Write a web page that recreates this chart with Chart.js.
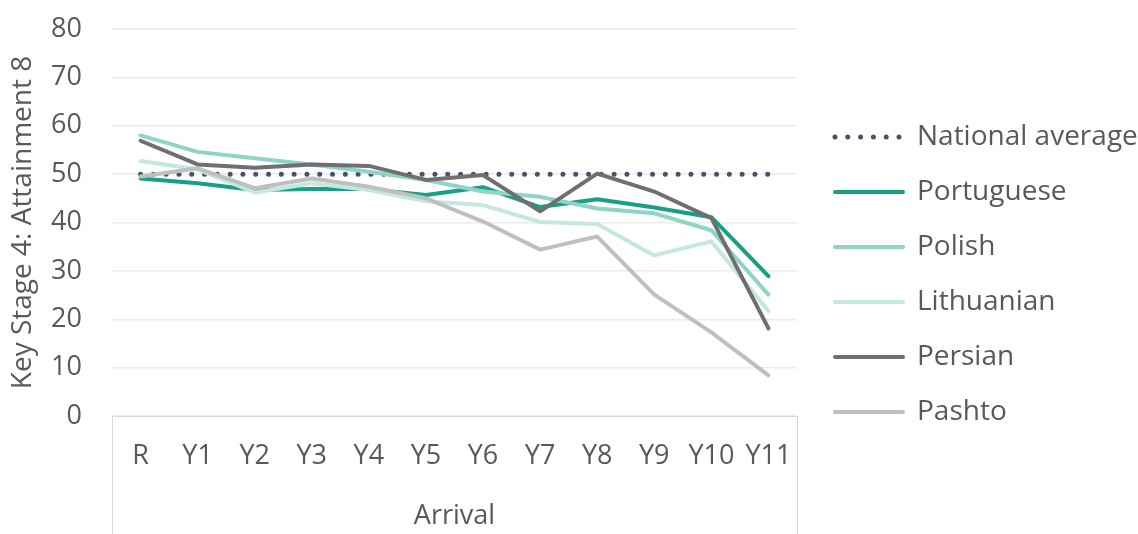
<!DOCTYPE html>
<html>
<head>
<meta charset="utf-8">
<script src="https://cdn.jsdelivr.net/npm/chart.js@4.4.1/dist/chart.umd.min.js"></script>
<style>
  html, body { margin: 0; padding: 0; background: #fff; }
  #wrap { width: 1138px; height: 534px; }
</style>
</head>
<body>
<div id="wrap"><canvas id="chart"></canvas></div>
<script>
// Data
const categories = ['R', 'Y1', 'Y2', 'Y3', 'Y4', 'Y5', 'Y6', 'Y7', 'Y8', 'Y9', 'Y10', 'Y11'];
const nationalAverage = [50, 50, 50, 50, 50, 50, 50, 50, 50, 50, 50, 50];
const portuguese = [49.1, 48.1, 46.7, 46.9, 46.9, 45.7, 47.3, 43.2, 44.8, 43.1, 41.1, 28.9];
const polish = [58.0, 54.6, 53.3, 52.0, 50.5, 48.8, 46.4, 45.3, 42.9, 41.9, 38.4, 25.1];
const lithuanian = [52.7, 51.0, 46.2, 48.1, 46.7, 44.4, 43.6, 40.1, 39.7, 33.2, 36.1, 21.7];
const persian = [56.9, 52.0, 51.3, 52.0, 51.7, 48.8, 49.8, 42.3, 50.1, 46.4, 40.9, 18.1];
const pashto = [49.5, 51.2, 47.1, 49.1, 47.4, 45.0, 40.2, 34.4, 37.1, 25.1, 17.3, 8.4];
const yTicks = [0, 10, 20, 30, 40, 50, 60, 70, 80];

const textColor = '#595959';
const fontFamily = '"Open Sans", "Noto Sans", sans-serif';
const fontSize = 27;

function series(label, data, color, order, extra) {
    return Object.assign({
        label: label,
        data: data,
        borderColor: color,
        backgroundColor: color,
        borderWidth: 4,
        borderCapStyle: 'round',
        borderJoinStyle: 'round',
        pointRadius: 0,
        pointHoverRadius: 0,
        tension: 0,
        fill: false,
        order: order
    }, extra || {});
}

// frame lines below the category axis, like the Excel one
const axisFrame = {
    id: 'axisFrame',
    afterDraw(chart) {
        const { ctx, chartArea } = chart;
        ctx.save();
        ctx.strokeStyle = '#d9d9d9';
        ctx.lineWidth = 1;
        ctx.beginPath();
        [chartArea.left, chartArea.right].forEach(x => {
            ctx.moveTo(Math.round(x) + 0.5, chartArea.bottom);
            ctx.lineTo(Math.round(x) + 0.5, chart.height);
        });
        ctx.stroke();
        ctx.restore();
    }
};

const ctx = document.getElementById('chart').getContext('2d');
new Chart(ctx, {
    type: 'line',
    data: {
        labels: categories,
        datasets: [
            series('National average', nationalAverage, '#44546a', 6, { borderWidth: 5, borderDash: [0, 12.8] }),
            series('Portuguese', portuguese, '#16a085', 5),
            series('Polish', polish, '#8fd4c4', 4),
            series('Lithuanian', lithuanian, '#c4e8df', 3),
            series('Persian', persian, '#6f6f6f', 2),
            series('Pashto', pashto, '#bfbfbf', 1)
        ]
    },
    options: {
        responsive: true,
        maintainAspectRatio: false,
        animation: false,
        layout: { padding: { top: 13, bottom: -2, left: 0, right: 0 } },
        plugins: {
            tooltip: { enabled: false },
            legend: {
                position: 'right',
                maxWidth: 330,
                labels: {
                    usePointStyle: true,
                    pointStyle: 'line',
                    pointStyleWidth: 68,
                    padding: 27,
                    color: textColor,
                    font: { family: fontFamily, size: 28 },
                    sort: (a, b) => a.datasetIndex - b.datasetIndex,
                    generateLabels(chart) {
                        const items = Chart.defaults.plugins.legend.labels.generateLabels(chart);
                        items.forEach(item => {
                            const ds = chart.data.datasets[item.datasetIndex];
                            item.strokeStyle = ds.borderColor;
                            item.lineWidth = ds.borderWidth;
                            item.lineDash = ds.borderDash || [];
                            item.lineCap = ds.borderCapStyle;
                            item.pointStyle = 'line';
                        });
                        return items;
                    }
                }
            }
        },
        scales: {
            x: {
                offset: true,
                grid: { display: false, drawTicks: false },
                border: { display: true, color: '#d9d9d9', width: 1 },
                ticks: {
                    color: textColor,
                    padding: 24,
                    maxRotation: 0,
                    autoSkip: false,
                    font: { family: fontFamily, size: fontSize }
                },
                title: {
                    display: true,
                    text: 'Arrival',
                    color: textColor,
                    padding: { top: 0, bottom: 3 },
                    font: { family: fontFamily, size: fontSize }
                },
                afterFit(scale) { scale.height = 120; }
            },
            y: {
                min: 0,
                max: 80,
                afterBuildTicks(scale) { scale.ticks = yTicks.map(v => ({ value: v })); },
                grid: { color: '#ececec', lineWidth: 1.5, drawTicks: false },
                border: { display: false },
                ticks: {
                    color: textColor,
                    padding: 30,
                    font: { family: fontFamily, size: fontSize }
                },
                title: {
                    display: true,
                    text: 'Key Stage 4: Attainment 8',
                    color: textColor,
                    padding: { top: 6, bottom: 0 },
                    font: { family: fontFamily, size: 28 }
                },
                afterFit(scale) {
                    scale.width = 112;
                    // plot top sits on the 80 gridline
                    scale.paddingTop = 29;
                }
            },
            // empty spacer between plot and legend
            gap: {
                position: 'right',
                display: true,
                grid: { display: false, drawTicks: false },
                border: { display: false },
                ticks: { display: false },
                afterFit(scale) { scale.width = 11; }
            }
        }
    },
    plugins: [axisFrame]
});
</script>
</body>
</html>
